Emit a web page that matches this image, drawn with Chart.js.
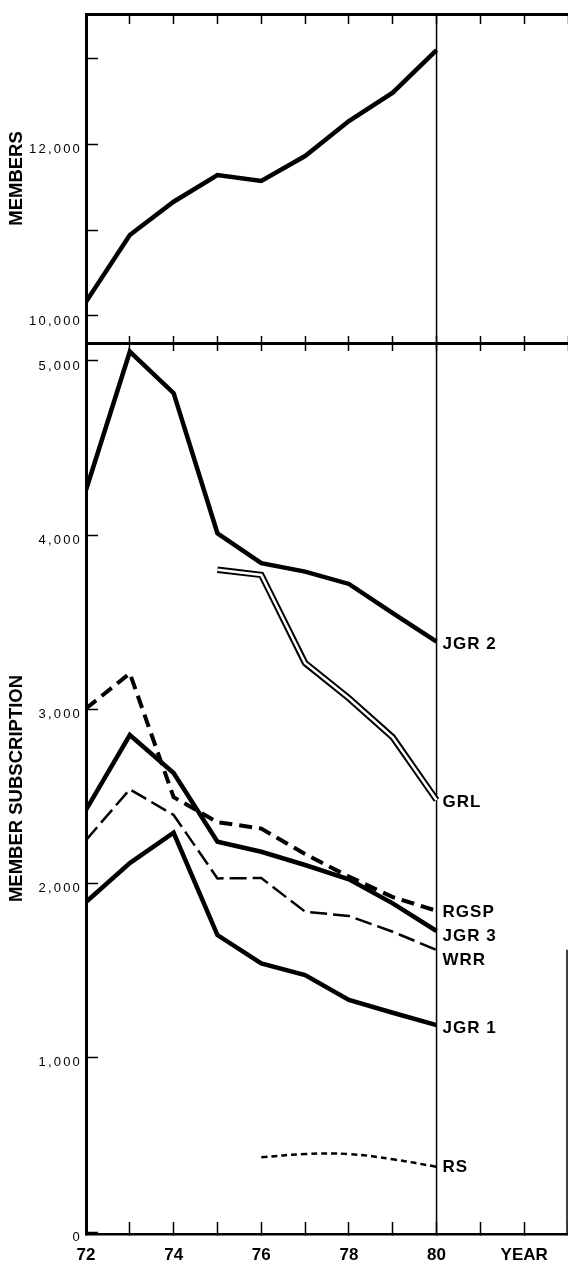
<!DOCTYPE html>
<html>
<head>
<meta charset="utf-8">
<script src="https://cdn.jsdelivr.net/npm/chart.js@4.4.0/dist/chart.umd.min.js"></script>
<style>
  html, body { margin: 0; padding: 0; background: #fff; }
  body { width: 568px; height: 1264px; position: relative; overflow: hidden; }
  canvas { position: absolute; left: 0; }
  #members { top: 0; }
  #subs { top: 333px; }
</style>
</head>
<body>
<canvas id="members" width="568" height="352"></canvas>
<canvas id="subs" width="568" height="931"></canvas>
<script>
// values, one per year 72..80 (null = no value that year)
var years   = [72, 73, 74, 75, 76, 77, 78, 79, 80];
var members = [10166, 10942, 11329, 11640, 11570, 11860, 12267, 12597, 13093];
var jgr2 = [4259, 5053, 4815, 4011, 3839, 3791, 3720, 3553, 3389];
var grl  = [null, null, null, 3802, 3772, 3266, 3064, 2840, 2480];
var rgsp = [3005, 3207, 2496, 2353, 2316, 2170, 2040, 1923, 1844];
var jgr3 = [2423, 2853, 2635, 2241, 2183, 2107, 2025, 1887, 1728];
var wrr  = [2250, 2541, 2394, 2030, 2032, 1839, 1814, 1724, 1619];
var jgr1 = [1894, 2118, 2292, 1705, 1542, 1475, 1332, 1259, 1188];
var rs   = [null, null, null, null, 429, 448, 448, 418, 375];

// ticks
var memberTickMarks  = [10000, 11000, 12000, 13000];
var memberTickLabels = [10000, 12000];
var subsTicks   = [0, 1000, 2000, 3000, 4000, 5000];
var yearLabels  = [72, 74, 76, 78, 80];
var yearTitle   = 'YEAR';
var yearTitleAt = 82;

Chart.defaults.font.family = '"Liberation Sans", Arial, sans-serif';
Chart.defaults.color = '#000';

function pts(vals) {
    return years.map(function (yr, i) { return { x: yr, y: vals[i] }; })
        .filter(function (p) { return p.y !== null; });
}

function line(label, vals, style) {
    return Object.assign({
        label: label,
        data: pts(vals),
        borderColor: '#000',
        backgroundColor: '#000',
        borderWidth: 4.5,
        pointRadius: 0,
        fill: false,
        tension: 0,
        borderCapStyle: 'butt'
    }, style || {});
}

// tick padding would otherwise be added to the layout, so drop it after fitting
function noPad(s) {
    s.paddingTop = 0;
    s.paddingBottom = 0;
    s.paddingLeft = 0;
    s.paddingRight = 0;
}

function yearAxis(position, tickLen, height, labels) {
    return {
        type: 'linear',
        position: position,
        min: 72,
        max: 83,
        afterFit: function (s) { s.height = height; noPad(s); },
        grid: { drawOnChartArea: false, drawTicks: true, tickLength: -tickLen, tickWidth: 1.5, tickColor: '#000' },
        border: { display: true, color: '#000', width: position === 'top' ? 3 : 2.5 },
        ticks: {
            display: labels,
            stepSize: 1,
            autoSkip: false,
            maxRotation: 0,
            padding: 23,
            font: { size: 17, weight: 'bold' },
            color: '#000',
            callback: function (v) {
                if (yearLabels.indexOf(v) >= 0) return String(v);
                if (v === yearTitleAt) return yearTitle;
                return '';
            }
        }
    };
}

function valueAxis(min, max, marks, labelled, title) {
    return {
        type: 'linear',
        position: 'left',
        min: min,
        max: max,
        afterFit: function (s) { s.width = 86; noPad(s); },
        afterBuildTicks: function (s) { s.ticks = marks.map(function (v) { return { value: v }; }); },
        // the old typeset tick numbers are widely spaced
        afterUpdate: function (s) {
            if (s._spaced) return;
            s._spaced = true;
            var draw = s.drawLabels;
            s.drawLabels = function (area) {
                this.ctx.save();
                this.ctx.letterSpacing = '2.2px';
                draw.call(this, area);
                this.ctx.restore();
            };
        },
        grid: { drawOnChartArea: false, drawTicks: true, tickLength: -12, tickWidth: 1.5, tickColor: '#000' },
        border: { display: true, color: '#000', width: 3 },
        ticks: {
            padding: 16,
            labelOffset: 5,
            font: { size: 13 },
            color: '#000',
            callback: function (v) {
                return labelled.indexOf(v) >= 0 ? v.toLocaleString('en-US') : '';
            }
        },
        title: {
            display: true,
            text: title,
            color: '#000',
            font: { size: 18.5, weight: 'bold', lineHeight: 1.2 },
            padding: { top: 6, bottom: 0 }
        }
    };
}

var decorations = {
    id: 'decorations',
    beforeDatasetsDraw: function (chart, args, opts) {
        var ctx = chart.ctx, a = chart.chartArea, xs = chart.scales.x, ys = chart.scales.y;
        ctx.save();
        ctx.strokeStyle = '#000';
        ctx.lineWidth = 1.5;
        var x80 = xs.getPixelForValue(80);
        ctx.beginPath();
        ctx.moveTo(x80, a.top);
        ctx.lineTo(x80, a.bottom);
        ctx.stroke();
        if (opts.edgeRuleTo !== undefined) {
            ctx.beginPath();
            ctx.moveTo(a.right - 1, ys.getPixelForValue(opts.edgeRuleTo));
            ctx.lineTo(a.right - 1, a.bottom);
            ctx.stroke();
        }
        ctx.restore();
    },
    afterDatasetsDraw: function (chart, args, opts) {
        var shift = opts.labelShift;
        if (!shift) return;
        var ctx = chart.ctx;
        ctx.save();
        ctx.letterSpacing = '1px';
        ctx.font = 'bold 17px "Liberation Sans", Arial, sans-serif';
        ctx.fillStyle = '#000';
        ctx.textAlign = 'left';
        ctx.textBaseline = 'middle';
        chart.data.datasets.forEach(function (ds, i) {
            if (ds.noLabel) return;
            var meta = chart.getDatasetMeta(i);
            var last = meta.data[meta.data.length - 1];
            ctx.fillText(ds.label, last.x + 6, last.y + (shift[ds.label] || 0));
        });
        ctx.restore();
    }
};

new Chart(document.getElementById('members').getContext('2d'), {
    type: 'line',
    data: { datasets: [line('MEMBERS', members, { noLabel: true })] },
    options: {
        responsive: false,
        animation: false,
        events: [],
        layout: { padding: 0, autoPadding: false },
        plugins: { legend: { display: false }, tooltip: { enabled: false }, decorations: {} },
        scales: {
            x: yearAxis('bottom', 7, 9, false),
            x2: yearAxis('top', 10, 14, false),
            y: valueAxis(9686, 13512, memberTickMarks, memberTickLabels, 'MEMBERS')
        }
    },
    plugins: [decorations]
});

new Chart(document.getElementById('subs').getContext('2d'), {
    type: 'line',
    data: {
        datasets: [
            line('JGR 2', jgr2),
            line('GRL', grl, { borderWidth: 6.5, order: 2 }),
            line('GRL', grl, { borderWidth: 2.5, borderColor: '#fff', order: 1, noLabel: true }),
            line('RGSP', rgsp, { borderWidth: 4, borderDash: [13, 7] }),
            line('JGR 3', jgr3),
            line('WRR', wrr, { borderWidth: 2.5, borderDash: [17, 6] }),
            line('JGR 1', jgr1),
            line('RS', rs, { borderWidth: 2.5, borderDash: [6, 4], tension: 0.4 })
        ]
    },
    options: {
        responsive: false,
        animation: false,
        events: [],
        layout: { padding: 0, autoPadding: false },
        plugins: {
            legend: { display: false },
            tooltip: { enabled: false },
            decorations: {
                edgeRuleTo: 1620,
                labelShift: { 'JGR 2': 3, 'GRL': 2, 'RGSP': 2, 'JGR 3': 5, 'WRR': 10, 'JGR 1': 3, 'RS': 1 }
            }
        },
        scales: {
            x: yearAxis('bottom', 12, 30, true),
            x2: yearAxis('top', 8, 10, false),
            y: valueAxis(-11, 5103, subsTicks, subsTicks, 'MEMBER SUBSCRIPTION')
        }
    },
    plugins: [decorations]
});
</script>
</body>
</html>
